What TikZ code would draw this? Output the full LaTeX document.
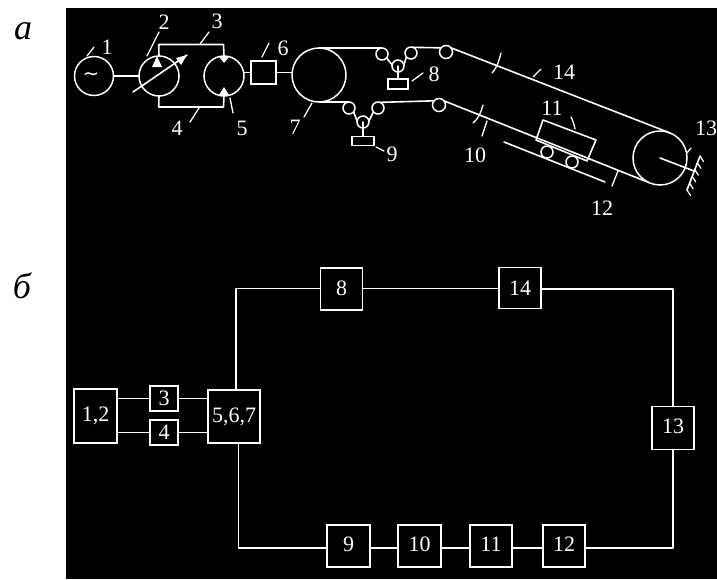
\documentclass[tikz,border=0pt]{standalone}
\usetikzlibrary{calc}
\usepackage{fontspec}
\setmainfont{Liberation Serif}
\newfontfamily\symfont{DejaVu Sans}
\begin{document}
\begin{tikzpicture}[x=1pt,y=-1pt,
  wire/.style={draw=white,line width=1.6pt,line cap=round,line join=round},
  thin wire/.style={draw=white,line width=1.3pt,line cap=round},
  disc/.style={circle,draw=white,line width=1.5pt,inner sep=0pt,outer sep=0pt,fill=black},
  roller/.style={disc,minimum size=12pt},
  block/.style={rectangle,draw=white,line width=1.7pt,inner sep=0pt,outer sep=0pt,fill=black,text=white,font=\fontsize{22}{22}\selectfont},
  num/.style={text=white,inner sep=0pt,font=\fontsize{22}{22}\selectfont},
  letter/.style={text=black,inner sep=0pt,font=\fontsize{36}{36}\selectfont\itshape}]
\useasboundingbox (0,0) rectangle (717,579);
\fill[white] (0,0) rectangle (717,579);
\fill[black] (66,8) rectangle (717,579);
\node[letter] (la) at (23,31) {a};
\node[letter] (lb) at (22,286) {б};

% --- scheme a: hydraulic part
\node[disc,minimum size=39pt] (c1) at (94,76) {};
\node[text=white,inner sep=0pt,font=\symfont\fontsize{20}{20}\selectfont] (sine) at (91,77) {∼};
\node[disc,minimum size=40pt] (c2) at (159,76) {};
\node[disc,minimum size=40pt] (c5) at (224,76) {};
\node[block,minimum width=25pt,minimum height=23pt] (b6) at (263.5,72.5) {};
\node[disc,minimum size=54pt] (c7) at (319,75) {};
\draw[wire] (c1.east) -- (c2.west);
\draw[wire] (c5.east |- b6.west) -- (b6.west);
\draw[wire] (b6.east) -- (c7.west |- b6.east);
\draw[wire] (c2.north) -- (158.7,44.5) -- (223.5,44.5) -- (c5.north);
\draw[wire] (c2.south) -- (158.7,107) -- (223.5,107) -- (c5.south);
\coordinate (vs) at (133,92);
\coordinate (ve) at (187,55);
\draw[wire] (vs) -- (ve);
\fill[white] (ve) -- (176,58) -- (181,65) -- cycle;
\fill[white] (152,67) -- (162,67) -- (157,56) -- cycle;
\fill[white] (219,57) -- (229,57) -- (224,63) -- cycle;
\fill[white] (219,95) -- (229,95) -- (224,87) -- cycle;

% --- scheme a: belts
\node[roller] (r8a) at (382,54) {};
\node[roller] (r8b) at (398,66) {};
\node[roller] (r8c) at (411,53) {};
\node[roller,minimum size=13pt] (r8d) at (446,52) {};
\node[block,minimum width=20pt,minimum height=10pt] (w8) at (398,84) {};
\node[roller] (r9a) at (349,108) {};
\node[roller] (r9b) at (363,122) {};
\node[roller] (r9c) at (378,108) {};
\node[roller,minimum size=13pt] (r9d) at (439,105) {};
\node[block,minimum width=22pt,minimum height=9pt] (w9) at (363,141) {};
\node[disc,minimum size=54pt] (c13) at (660,158) {};
\draw[wire] (c7.north) -- (r8a.north);
\draw[wire] (r8a.-40) -- (r8b.170);
\draw[wire] (r8b.10) -- (r8c.220);
\draw[wire] (r8c.70) -- (r8d.140);
\draw[wire] (r8d.40) -- (c13.70);
\draw[wire] (r8b.center) -- (w8.north);
\draw[wire] (c7.south) -- (r9a.north);
\draw[wire] (r9a.-40) -- (r9b.170);
\draw[wire] (r9b.10) -- (r9c.220);
\draw[wire] (r9c.70) -- (r9d.140);
\draw[wire] (r9d.40) -- (c13.-115);
\draw[wire] (r9b.center) -- (w9.north);
\draw[thin wire] (492,73) .. controls (498,66) and (499,60) .. (501,53);
\draw[thin wire] (473,123) .. controls (479,118) and (481,112) .. (483,105);

% carriage 11
\coordinate (k1) at (543,120);
\coordinate (k2) at (596,140);
\coordinate (k3) at (587,161);
\coordinate (k4) at (536,140);
\draw[wire] (k1) -- (k2) -- (k3) -- (k4) -- cycle;
\node[roller] (r11a) at (547,152) {};
\node[roller] (r11b) at (572,162) {};
\coordinate (pl1) at (504,142);
\coordinate (pl2) at (605,182);
\draw[wire] (pl1) -- (pl2);

% drive 13 with shaft and ground
\coordinate (gr1) at (700,156);
\coordinate (gr2) at (687,190);
\coordinate (sh) at (694,171);
\draw[wire] (c13.center) -- (sh);
\draw[wire] (gr1) -- (gr2);
\foreach \t in {0,0.2,0.4,0.6,0.8,1}
  \draw[thin wire] ($(gr1)!\t!(gr2)$) -- ++(3.5,5.5);

% --- leader ticks and numbers, scheme a
\draw[thin wire] (87,56) -- (94,47);   \node[num] (n1) at (107,47) {1};
\draw[thin wire] (147,56) -- (159,32); \node[num] (n2) at (164,22) {2};
\draw[thin wire] (200,44) -- (209,32); \node[num] (n3) at (217,21) {3};
\draw[thin wire] (190,122) -- (199,108); \node[num] (n4) at (177,128) {4};
\draw[thin wire] (233,113) -- (230,98); \node[num] (n5) at (242,128) {5};
\draw[thin wire] (262,57) -- (269,43); \node[num] (n6) at (283,48) {6};
\draw[thin wire] (304,117) -- (312,103); \node[num] (n7) at (295,127) {7};
\draw[thin wire] (412,81) -- (423,73); \node[num] (n8) at (434,74) {8};
\draw[thin wire] (376,147) -- (384,151); \node[num] (n9) at (392,154) {9};
\draw[thin wire] (482,136) -- (487,121); \node[num] (n10) at (475,155) {10};
\draw[thin wire] (575,129) .. controls (574,124) and (573,121) .. (571,117); \node[num] (n11) at (552,108) {11};
\draw[thin wire] (612,186) -- (618,171); \node[num] (n12) at (602,208) {12};
\draw[thin wire] (687,153) -- (691,148); \node[num] (n13) at (706,128) {13};
\draw[thin wire] (533,77) -- (541,69); \node[num] (n14) at (564,72) {14};

% --- scheme b
\node[block,minimum width=43pt,minimum height=54pt] (B12) at (95.5,416) {\raisebox{1pt}{1,2}};
\node[block,minimum width=28pt,minimum height=25pt] (B3) at (164,398.5) {3};
\node[block,minimum width=28pt,minimum height=25pt] (B4) at (164,432.5) {4};
\node[block,line width=2.2pt,minimum width=52pt,minimum height=53pt] (B567) at (234,416.5) {5,6,7};
\node[block,minimum width=42pt,minimum height=42pt] (B8) at (341.5,289) {\raisebox{2pt}{8}};
\node[block,minimum width=42pt,minimum height=41pt] (B14) at (520,288) {14};
\node[block,minimum width=42pt,minimum height=43pt] (B13) at (673,428) {\raisebox{3pt}{13}};
\node[block,minimum width=43pt,minimum height=42pt] (B9) at (348.5,546) {\raisebox{3pt}{9}};
\node[block,minimum width=43pt,minimum height=42pt] (B10) at (419.5,546) {\raisebox{3pt}{10}};
\node[block,minimum width=42pt,minimum height=42pt] (B11) at (491,546) {\raisebox{3pt}{11}};
\node[block,minimum width=42pt,minimum height=42pt] (B12b) at (564,546) {\raisebox{3pt}{12}};
\coordinate (wtop) at (0,288.5);
\coordinate (wr) at (0,289);
\coordinate (wb) at (0,548);
\draw[wire] (B12.east |- B3) -- (B3.west);
\draw[wire] (B12.east |- B4) -- (B4.west);
\draw[wire] (B3.east) -- (B3.east -| B567.west);
\draw[wire] (B4.east) -- (B4.east -| B567.west);
\draw[wire] (B8.west |- wtop) -- (236,288.5) -- (236,390);
\draw[wire] (B8.east |- wtop) -- (B14.west |- wtop);
\draw[wire] (B14.east |- wr) -- (B13.north |- wr) -- (B13.north);
\draw[wire] (B13.south) -- (B13.south |- wb) -- (B12b.east |- wb);
\draw[wire] (B12b.west |- wb) -- (B11.east |- wb);
\draw[wire] (B11.west |- wb) -- (B10.east |- wb);
\draw[wire] (B10.west |- wb) -- (B9.east |- wb);
\draw[wire] (B9.west |- wb) -- (238.5,548) -- (238.5,443);
\end{tikzpicture}
\end{document}
